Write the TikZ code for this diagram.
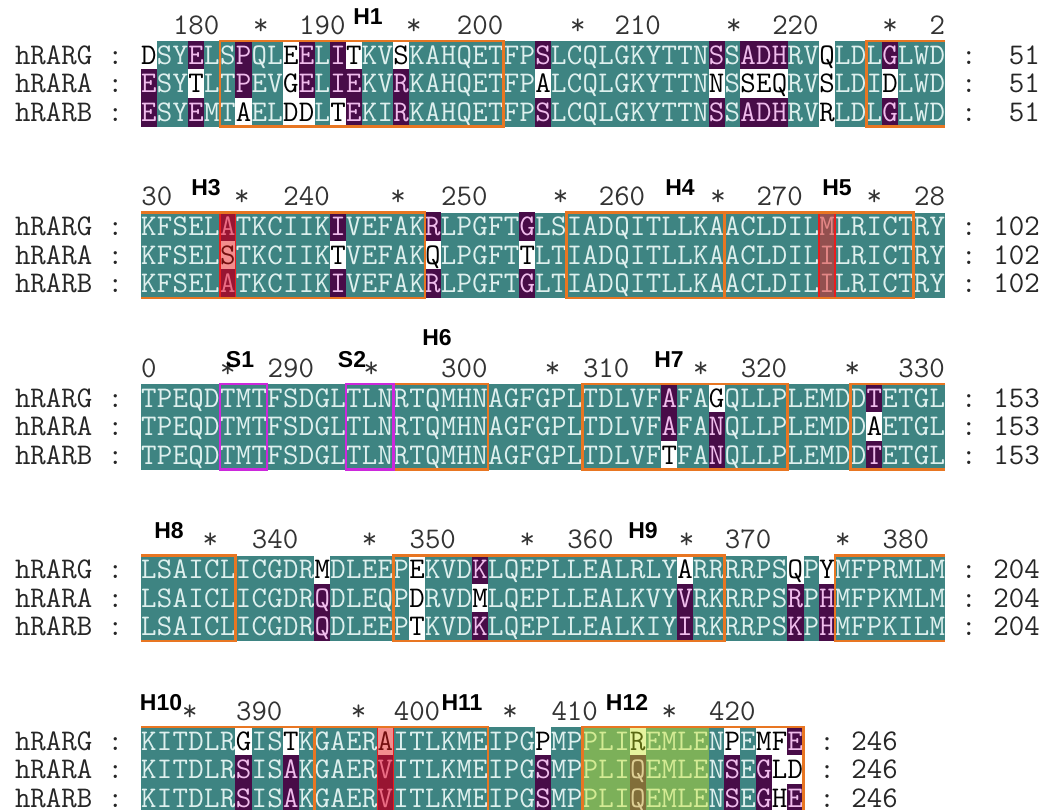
\documentclass[tikz,border=0pt]{standalone}
\usepackage{fontspec}
\setsansfont{Liberation Sans}
\usepackage{xstring}
\usetikzlibrary{positioning}

\definecolor{alnteal}{RGB}{62,132,130}
\definecolor{alnpurple}{RGB}{72,12,72}
\definecolor{tealtxt}{RGB}{222,240,238}
\definecolor{purptxt}{RGB}{240,188,236}
\definecolor{helixorange}{RGB}{232,118,34}
\definecolor{strandpink}{RGB}{204,40,220}
\definecolor{hotred}{RGB}{232,30,30}
\definecolor{lbgreen}{RGB}{200,230,40}

\newcommand\cw{15.77}
\newcommand\rh{28.5}
\newcommand\xo{141}

% similarity groups used for the shading
\newcommand\aagroup[2]{\foreach \x in {#1}{\expandafter\xdef\csname grp\x\endcsname{#2}}}
\aagroup{D,N}{1}\aagroup{E,Q}{2}\aagroup{S,T}{3}\aagroup{K,R}{4}
\aagroup{F,Y,W}{5}\aagroup{L,I,V,M}{6}\aagroup{A}{7}\aagroup{C}{8}
\aagroup{G}{9}\aagroup{H}{10}\aagroup{P}{11}

\newcommand\setblock[4]{%
  \expandafter\def\csname sG#1\endcsname{#2}%
  \expandafter\def\csname sA#1\endcsname{#3}%
  \expandafter\def\csname sB#1\endcsname{#4}}
\setblock{0}{DSYELSPQLEELITKVSKAHQETFPSLCQLGKYTTNSSADHRVQLDLGLWD}
  {ESYTLTPEVGELIEKVRKAHQETFPALCQLGKYTTNNSSEQRVSLDIDLWD}
  {ESYEMTAELDDLTEKIRKAHQETFPSLCQLGKYTTNSSADHRVRLDLGLWD}
\setblock{1}{KFSELATKCIIKIVEFAKRLPGFTGLSIADQITLLKAACLDILMLRICTRY}
  {KFSELSTKCIIKTVEFAKQLPGFTTLTIADQITLLKAACLDILILRICTRY}
  {KFSELATKCIIKIVEFAKRLPGFTGLTIADQITLLKAACLDILILRICTRY}
\setblock{2}{TPEQDTMTFSDGLTLNRTQMHNAGFGPLTDLVFAFAGQLLPLEMDDTETGL}
  {TPEQDTMTFSDGLTLNRTQMHNAGFGPLTDLVFAFANQLLPLEMDDAETGL}
  {TPEQDTMTFSDGLTLNRTQMHNAGFGPLTDLVFTFANQLLPLEMDDTETGL}
\setblock{3}{LSAICLICGDRMDLEEPEKVDKLQEPLLEALRLYARRRRPSQPYMFPRMLM}
  {LSAICLICGDRQDLEQPDRVDMLQEPLLEALKVYVRKRRPSRPHMFPKMLM}
  {LSAICLICGDRQDLEEPTKVDKLQEPLLEALKIYIRKRRPSKPHMFPKILM}
\setblock{4}{KITDLRGISTKGAERAITLKMEIPGPMPPLIREMLENPEMFE}
  {KITDLRSISAKGAERVITLKMEIPGSMPPLIQEMLENSEGLD}
  {KITDLRSISAKGAERVITLKMEIPGSMPPLIQEMLENSEGHE}

\newcommand\classify{%
  \ifx\grG\grA
    \ifx\grA\grB \def\kG{t}\def\kA{t}\def\kB{t}\else \def\kG{p}\def\kA{p}\def\kB{w}\fi
  \else
    \ifx\grG\grB \def\kG{p}\def\kA{w}\def\kB{p}\else
      \ifx\grA\grB \def\kG{w}\def\kA{p}\def\kB{p}\else \def\kG{w}\def\kA{w}\def\kB{w}\fi
    \fi
  \fi}

\newcommand\helixbox[4][helixline]{\draw[#1] ({\xo+#3*\cw},{41+171.5*#2}) rectangle ({\xo+(#4+1)*\cw},{41+171.5*#2+3*\rh});}
\newcommand\helixtoend[3]{\draw[helixline] ({\xo+(#3+1)*\cw},{41+171.5*#1}) -- ({\xo+#2*\cw},{41+171.5*#1})
  -- ({\xo+#2*\cw},{41+171.5*#1+3*\rh}) -- ({\xo+(#3+1)*\cw},{41+171.5*#1+3*\rh});}
\newcommand\helixfromstart[3]{\draw[helixline] ({\xo+#2*\cw},{41+171.5*#1}) -- ({\xo+(#3+1)*\cw},{41+171.5*#1})
  -- ({\xo+(#3+1)*\cw},{41+171.5*#1+3*\rh}) -- ({\xo+#2*\cw},{41+171.5*#1+3*\rh});}

\begin{document}
\begin{tikzpicture}[
  x=1pt,y=-1pt,
  seqfont/.style={font=\ttfamily\fontsize{30}{30}\selectfont,inner sep=0pt,anchor=base},
  rest/.style={seqfont,text=tealtxt},
  resp/.style={seqfont,text=purptxt},
  resw/.style={seqfont,text=black},
  cellt/.style={},
  cellp/.style={fill=alnpurple},
  cellw/.style={fill=white},
  seqlab/.style={seqfont,text=black!85},
  ruler/.style={seqfont,text=black!80},
  helix/.style={font=\sffamily\bfseries\fontsize{23}{23}\selectfont,inner sep=0pt,anchor=base},
  helixline/.style={draw=helixorange,line width=2.6pt},
  strandline/.style={draw=strandpink,line width=2.6pt},
  hotcell/.style={fill=hotred,fill opacity=0.5,draw=hotred,line width=1.4pt},
  greenwash/.style={fill=lbgreen,fill opacity=0.45}
]
  \fill[white] (0,0) rectangle (1054,809);
  \useasboundingbox (0,0) rectangle (1054,809);

  % alignment blocks
  \foreach \blk/\nres/\total in {0/51/51,1/51/102,2/51/153,3/51/204,4/42/246}{
    \pgfmathsetmacro\ytop{41+171.5*\blk}
    \fill[alnteal] (\xo,\ytop) rectangle ++(\nres*\cw,3*\rh);
    \edef\seqG{\csname sG\blk\endcsname}%
    \edef\seqA{\csname sA\blk\endcsname}%
    \edef\seqB{\csname sB\blk\endcsname}%
    \foreach \col in {1,...,\nres}{
      \StrChar{\seqG}{\col}[\resG]%
      \StrChar{\seqA}{\col}[\resA]%
      \StrChar{\seqB}{\col}[\resB]%
      \edef\grG{\csname grp\resG\endcsname}%
      \edef\grA{\csname grp\resA\endcsname}%
      \edef\grB{\csname grp\resB\endcsname}%
      \classify
      \pgfmathsetmacro\xl{\xo+(\col-1)*\cw}
      \path[cell\kG] (\xl-0.2,\ytop-0.2) rectangle ++(\cw+0.4,\rh+0.4);
      \path[cell\kA] (\xl-0.2,\ytop+\rh-0.2) rectangle ++(\cw+0.4,\rh+0.4);
      \path[cell\kB] (\xl-0.2,\ytop+2*\rh-0.2) rectangle ++(\cw+0.4,\rh+0.4);
      \node[res\kG] (g\blk-\col) at (\xl+0.5*\cw,\ytop+23) {\resG};
      \node[res\kA] (a\blk-\col) at (\xl+0.5*\cw,\ytop+\rh+23) {\resA};
      \node[res\kB] (b\blk-\col) at (\xl+0.5*\cw,\ytop+2*\rh+23) {\resB};
    }
    \foreach \row/\seqname in {0/hRARG,1/hRARA,2/hRARB}{
      \node[seqlab,anchor=base west] (lab\blk-\row) at (14.8,\ytop+\row*\rh+23) {\seqname{} :};
      \node[seqlab] (sep\blk-\row) at (\xo+\nres*\cw+1.5*\cw,\ytop+\row*\rh+23) {:};
      \node[seqlab,anchor=base east] (num\blk-\row) at (\xo+\nres*\cw+6*\cw,\ytop+\row*\rh+23) {\total};
    }
  }

  % ruler lines
  \foreach \tc/\tt [count=\i] in {3/180,7.1/*,11/190,16.8/*,21/200,27.2/*,31/210,37.1/*,41/220,47/*,50/2}
    \node[ruler] (r0-\i) at ({\xo+(\tc+0.5)*\cw},34) {\tt};
  \foreach \tc/\tt [count=\i] in {0.5/30,5.9/*,10/240,15.8/*,20/250,26.1/*,30/260,36.1/*,40/270,46/*,49.5/28}
    \node[ruler] (r1-\i) at ({\xo+(\tc+0.5)*\cw},205.5) {\tt};
  \foreach \tc/\tt [count=\i] in {0/0,5/*,9/290,14.1/*,20/300,25.6/*,29/310,35/*,39/320,44.6/*,49/330}
    \node[ruler] (r2-\i) at ({\xo+(\tc+0.5)*\cw},377) {\tt};
  \foreach \tc/\tt [count=\i] in {3.9/*,8/340,14/*,18/350,24/*,28/360,34.1/*,38/370,44/*,48/380}
    \node[ruler] (r3-\i) at ({\xo+(\tc+0.5)*\cw},548.5) {\tt};
  \foreach \tc/\tt [count=\i] in {2.6/*,7/390,13.3/*,17/400,22.9/*,27/410,33/*,37/420}
    \node[ruler] (r4-\i) at ({\xo+(\tc+0.5)*\cw},720) {\tt};

  % secondary structure labels
  \foreach \hx/\blk/\hname in {368/0/H1,206/1/H3,680/1/H4,837/1/H5,240/2/S1,352/2/S2,669/2/H7,
      169/3/H8,643/3/H9,161/4/H10,462/4/H11,627/4/H12}
    \node[helix] (\hname) at (\hx,{41+171.5*\blk-17}) {\hname};
  \node[helix] (H6) at (437,{41+171.5*2-39}) {H6};

  % highlighted positions
  \fill[greenwash] ({\xo+28*\cw},{41+171.5*4}) rectangle ({\xo+36*\cw},{41+171.5*4+3*\rh});
  \helixbox[hotcell]{1}{5}{5}
  \helixbox[hotcell]{1}{43}{43}
  \helixbox[hotcell]{4}{15}{15}

  % helices
  \helixbox{0}{5}{22}
  \helixtoend{0}{46}{50}
  \helixfromstart{1}{0}{17}
  \helixbox{1}{27}{36}
  \helixbox{1}{37}{48}
  \helixbox{2}{16}{21}
  \helixbox{2}{28}{40}
  \helixtoend{2}{45}{50}
  \helixfromstart{3}{0}{5}
  \helixbox{3}{16}{36}
  \helixtoend{3}{44}{50}
  \helixfromstart{4}{0}{10}
  \helixbox{4}{11}{21}
  \helixbox{4}{28}{41}

  % strands
  \helixbox[strandline]{2}{5}{7}
  \helixbox[strandline]{2}{13}{15}
\end{tikzpicture}
\end{document}
